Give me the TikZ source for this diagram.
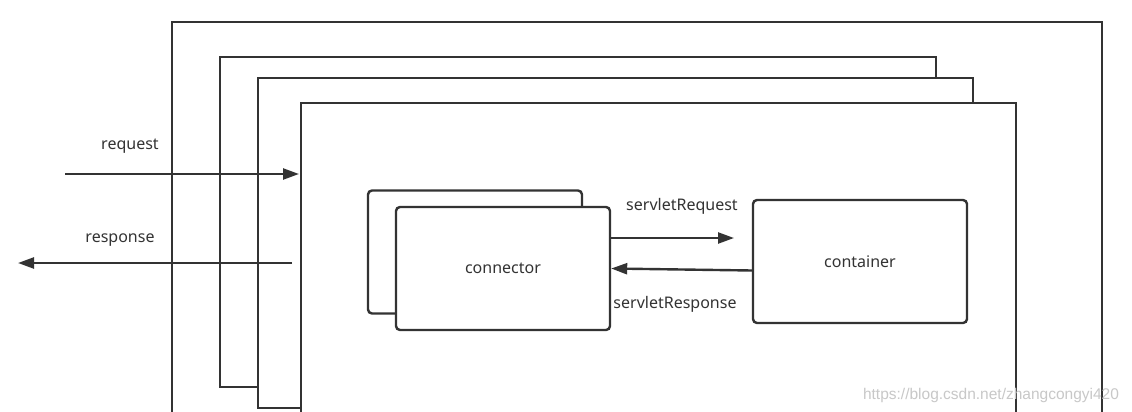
\documentclass[tikz,border=0pt]{standalone}
\usepackage{fontspec}
\setmainfont{Noto Sans}
\newfontfamily\markfont{Liberation Sans}
\usetikzlibrary{positioning, arrows.meta}
\definecolor{linegray}{HTML}{333333}
\definecolor{textgray}{HTML}{333333}
\definecolor{markgray}{HTML}{C8C8C8}

\begin{document}
\begin{tikzpicture}[x=1pt, y=-1pt,
    frame/.style={draw=linegray, line width=2.4pt, fill=white},
    box/.style={draw=linegray, line width=2.4pt, fill=white, rounded corners=4pt,
        minimum width=214pt, minimum height=123pt, inner sep=0pt,
        font=\fontsize{16}{19}\selectfont, text=textgray},
    arr/.style={-{Triangle[length=16pt, width=11pt]}, draw=linegray, line width=2.4pt},
    lbl/.style={font=\fontsize{16}{19}\selectfont, text=textgray}]
    \clip (0, 0) rectangle (1132, 412);
    \fill [white] (0, 0) rectangle (1132, 412);
    % Nested frames
    \draw [frame] (172, 22) rectangle (1102, 440);
    \draw [frame] (220, 57) rectangle (936, 387);
    \draw [frame] (258, 78) rectangle (973, 408);
    \draw [frame] (301, 103) rectangle (1016, 440);
    % Connector (two stacked) and container
    \node [box] (connback) at (475, 252) {};
    \node [box] (conn) at (503, 268.5) {connector};
    \node [box] (cont) at (860, 261.5) {container};
    % Request / response
    \coordinate (reqstart) at (65, 174);
    \coordinate (reqend) at (299, 174);
    \coordinate (resstart) at (292, 263);
    \coordinate (resend) at (18, 263);
    \draw [arr] (reqstart) -- (reqend);
    \draw [arr] (resstart) -- (resend);
    \node [lbl] (reqlbl) at (130, 146) {request};
    \node [lbl] (reslbl) at (120, 240) {response};
    % Servlet request / response
    \coordinate (sreqtip) at (734, 238);
    \draw [arr] (conn.east |- sreqtip) -- (sreqtip);
    \draw [arr] ([yshift=-9pt]cont.west) -- (conn.east);
    \node [lbl] (sreqlbl) at (682, 206) {servletRequest};
    \node [lbl] (sreslbl) at (675, 304) {servletResponse};
    % Watermark
    \node [text=markgray, font=\markfont\fontsize{15.5}{18}\selectfont] (mark) at (991, 395) {https://blog.csdn.net/zhangcongyi420};
\end{tikzpicture}
\end{document}
